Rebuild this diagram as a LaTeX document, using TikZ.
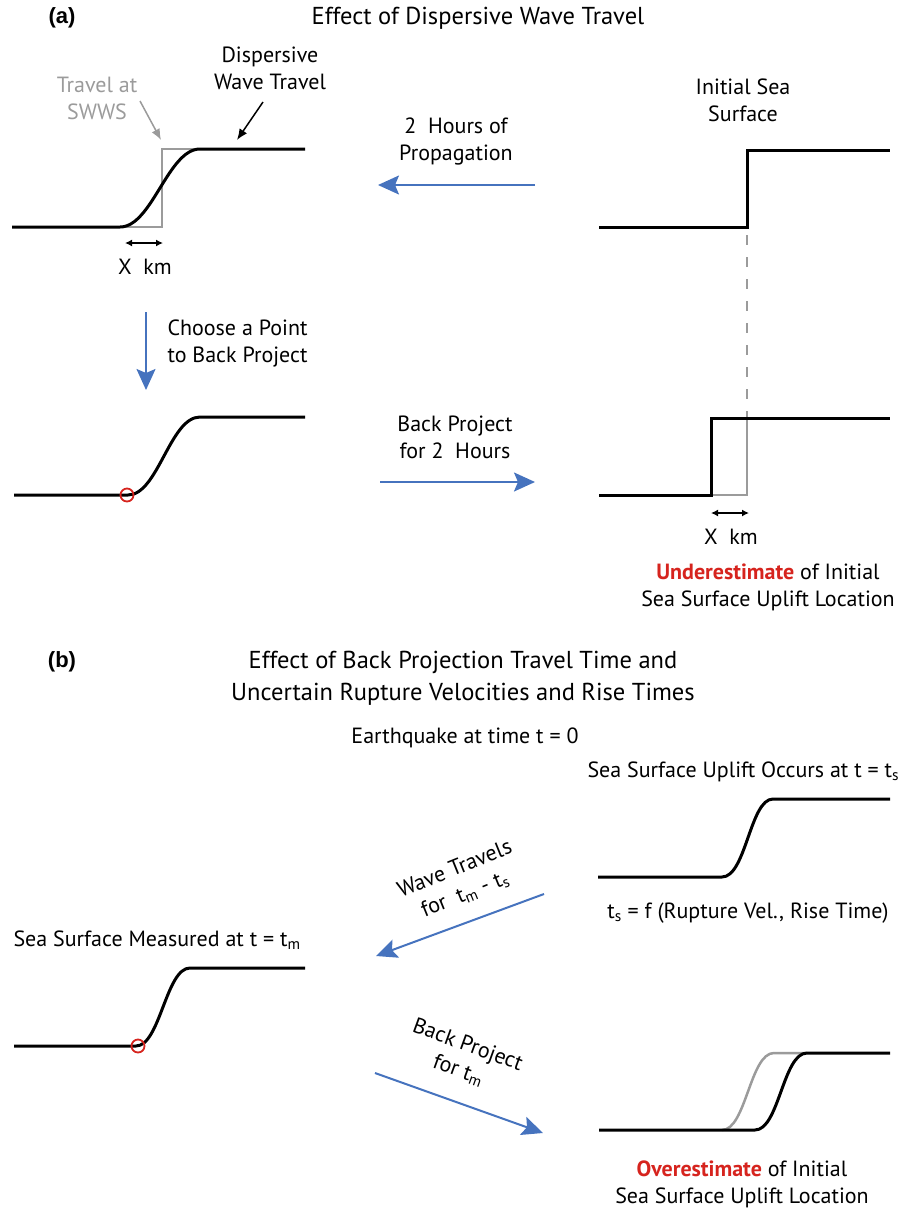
\documentclass[tikz,border=0pt]{standalone}
\usepackage{fontspec}
\setmainfont{PT Sans}
\newfontfamily\panelfont{Liberation Sans}
\usetikzlibrary{arrows.meta}

\definecolor{arrowblue}{RGB}{70,115,190}
\definecolor{markred}{RGB}{214,36,30}
\definecolor{swwsgray}{RGB}{155,155,155}

\tikzset{
  surface/.style={line width=3pt},
  shifted/.style={line width=2.5pt, swwsgray},
  travel/.style={line width=2pt, arrowblue, -{Stealth[length=21pt,width=19pt,inset=4pt]}},
  span/.style={line width=1.4pt, {Latex[length=7pt,width=7pt]}-{Latex[length=7pt,width=7pt]}},
  pointer/.style={line width=1.5pt, -{Latex[length=11pt,width=9pt]}},
  pick/.style={markred, line width=1.8pt},
  txt/.style={font=\fontsize{22}{27}\selectfont, align=center},
  heading/.style={font=\fontsize{24.5}{32}\selectfont, align=center},
  panel/.style={font=\panelfont\bfseries\fontsize{22}{24}\selectfont},
}

\begin{document}
\begin{tikzpicture}[x=1pt,y=-1pt]
\useasboundingbox (0,0) rectangle (900,1211);

%%% (a) dispersive wave travel
\node[panel] (lbla) at (62,18) {(a)};
\node[heading] (titlea) at (478,18) {Effect of Dispersive Wave Travel};

% measured wave, top left
\draw[shifted] (120,227) -- (162,227) -- (162,149) -- (200,149);
\draw[surface] (12,227) -- (120,227) .. controls (152,227) and (168,149) .. (200,149) -- (305,149);
\draw[span] (125,243) -- (163,243);
\node[txt] (xkma) at (145,267) {X~~km};

\node[txt, swwsgray] (swws) at (97,98) {Travel at\\SWWS};
\node[txt] (disp) at (270,68) {Dispersive\\Wave Travel};
\coordinate (swwstail) at (140,101);
\coordinate (swwshead) at (161,140);
\coordinate (disptail) at (263,102);
\coordinate (disphead) at (237,140);
\draw[pointer, swwsgray] (swwstail) -- (swwshead);
\draw[pointer] (disptail) -- (disphead);

% initial sea surface, top right
\node[txt] (initial) at (743,100) {Initial Sea\\Surface};
\draw[surface] (599,227) -- (747,227) -- (747,150) -- (890,150);
\draw[swwsgray, line width=1.2pt, dash pattern=on 10pt off 12pt] (747,235) -- (747,418);

\node[txt] (prop) at (456,141) {2~~Hours of\\Propagation};
\coordinate (propstart) at (535,185);
\coordinate (propend) at (378,185);
\draw[travel] (propstart) -- (propend);

% choose point
\coordinate (choosestart) at (146,312);
\coordinate (chooseend) at (146,390);
\draw[travel] (choosestart) -- (chooseend);
\node[txt, anchor=west, align=left] (choose) at (164,343) {Choose a Point\\to Back Project};

\draw[surface] (14,495) -- (128,495) .. controls (158,495) and (170,417) .. (200,417) -- (305,417);
\draw[pick] (127,495) circle (6.5);

\node[txt] (backa) at (455,437) {Back Project\\for 2~~Hours};
\coordinate (backastart) at (380,482);
\coordinate (backaend) at (535,482);
\draw[travel] (backastart) -- (backaend);

% back projected step
\draw[shifted] (711,495) -- (747,495) -- (747,418);
\draw[surface] (599,495) -- (711,495) -- (711,418) -- (890,418);
\draw[span] (711,513) -- (749,513);
\node[txt] (xkmb) at (731,537) {X~~km};
\node[txt] (under) at (768,587) {\textcolor{markred}{\bfseries Underestimate} of Initial\\Sea Surface Uplift Location};

%%% (b) travel time and rupture
\node[panel] (lblb) at (62,662) {(b)};
\node[heading] (titleb) at (463,678) {Effect of Back Projection Travel Time and\\Uncertain Rupture Velocities and Rise Times};
\node[txt] (quake) at (465,738) {Earthquake at time t = 0};

\node[txt, anchor=west] (uplift) at (584,772) {Sea Surface Uplift Occurs at t = t\textsubscript{s}};
\draw[surface] (598,877) -- (722,877) .. controls (746,877) and (750,799) .. (773,799) -- (890,799);
\node[txt] (tsf) at (748,913) {t\textsubscript{s} = f (Rupture Vel., Rise Time)};

\node[txt, rotate=22] (wave) at (460,882) {Wave Travels\\for~~t\textsubscript{m} - t\textsubscript{s}};
\coordinate (wavestart) at (544,894);
\coordinate (waveend) at (376,956);
\draw[travel] (wavestart) -- (waveend);

\node[txt, anchor=west] (measured) at (10,940) {Sea Surface Measured at t = t\textsubscript{m}};
\draw[surface] (14,1046) -- (136,1046) .. controls (160,1046) and (166,968) .. (190,968) -- (305,968);
\draw[pick] (138,1046) circle (6.5);

\node[txt, rotate=-20] (backb) at (463,1058) {Back Project\\for t\textsubscript{m}};
\coordinate (backbstart) at (375,1073);
\coordinate (backbend) at (543,1133);
\draw[travel] (backbstart) -- (backbend);

% over estimate
\draw[shifted] (722,1130) .. controls (746,1130) and (750,1053) .. (774,1053) -- (807,1053);
\draw[surface] (599,1130) -- (755,1130) .. controls (779,1130) and (783,1053) .. (807,1053) -- (890,1053);
\node[txt] (over) at (742,1184) {\textcolor{markred}{\bfseries Overestimate} of Initial\\Sea Surface Uplift Location};

\end{tikzpicture}
\end{document}
